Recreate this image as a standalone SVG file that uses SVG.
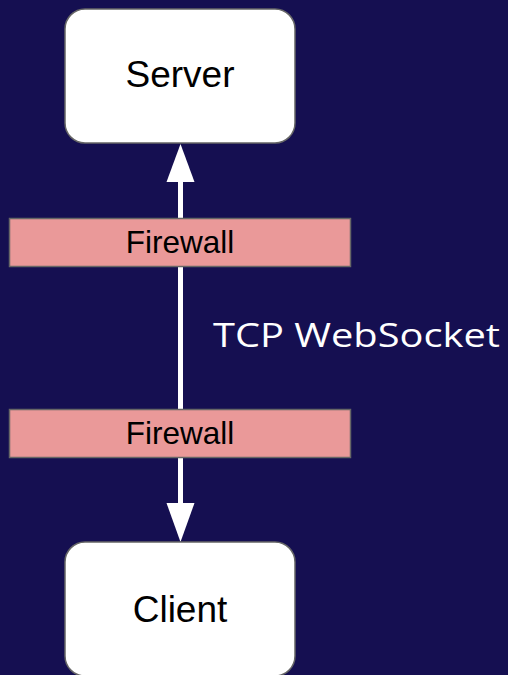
<svg xmlns="http://www.w3.org/2000/svg" width="508" height="675" viewBox="0 0 508 675">
<defs>
<style>
.box{fill:#ffffff;stroke:#666666;stroke-width:1.5}
.fw{fill:#ea9999;stroke:#666666;stroke-width:1.5}
.lbl{font-family:"Liberation Sans",Arial,sans-serif;fill:#000000;text-anchor:middle}
.edge{stroke:#ffffff;stroke-width:5;fill:none}
.head{fill:#ffffff}
</style>
</defs>
<rect x="0" y="0" width="508" height="675" fill="#150f51"/>
<g id="connectors">
<line class="edge" x1="180.5" y1="180" x2="180.5" y2="505"/>
<polygon class="head" points="180.5,144 166.5,182 194.5,182"/>
<polygon class="head" points="180.5,542 166.5,503 194.5,503"/>
</g>
<g id="server">
<rect class="box" x="65" y="9" width="230" height="134" rx="20" ry="20"/>
<text class="lbl" x="180" y="87" font-size="37">Server</text>
</g>
<g id="firewall1">
<rect class="fw" x="9.5" y="218.5" width="341" height="48"/>
<text class="lbl" x="180" y="253" font-size="31.5">Firewall</text>
</g>
<g id="firewall2">
<rect class="fw" x="9.5" y="409.5" width="341" height="48"/>
<text class="lbl" x="180" y="444" font-size="31.5">Firewall</text>
</g>
<g id="client">
<rect class="box" x="65" y="542" width="230" height="134" rx="20" ry="20"/>
<text class="lbl" x="180" y="622" font-size="37">Client</text>
</g>
<g id="label">
<text x="213" y="347" font-family="'Open Sans','DejaVu Sans',sans-serif" font-size="33" fill="#ffffff" textLength="287" lengthAdjust="spacingAndGlyphs">TCP WebSocket</text>
</g>
</svg>
